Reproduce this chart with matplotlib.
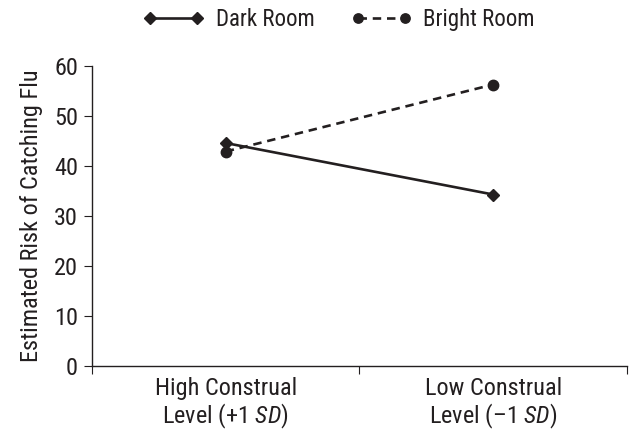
import matplotlib
matplotlib.use("Agg")
import matplotlib.pyplot as plt

FONT = 'Roboto Condensed'
plt.rcParams['font.family'] = [FONT, 'DejaVu Sans']
plt.rcParams['mathtext.fontset'] = 'custom'
plt.rcParams['mathtext.it'] = FONT + ':italic'
plt.rcParams['mathtext.rm'] = FONT

categories = ["High Construal\nLevel (+1 $\\mathit{SD}$)", "Low Construal\nLevel (\u20131 $\\mathit{SD}$)"]
dark_room = [44.6, 34.3]
bright_room = [42.9, 56.3]

ink = '#231f20'
fig = plt.figure(figsize=(6.34, 4.40), dpi=100)
ax = fig.add_axes([0.145, 0.168, 0.844, 0.682])

x = list(range(len(categories)))
ax.plot(x, dark_room, color=ink, linestyle='-', linewidth=1.9, marker='D', markersize=6.5,
        label='Dark Room')
ax.plot(x, bright_room, color=ink, linestyle=(0, (3.2, 2.2)), linewidth=1.9, marker='o', markersize=7.5,
        label='Bright Room')

ax.set_xlim(-0.5, 1.5)
ax.set_ylim(0, 60)
ax.set_yticks(range(0, 61, 10))
ax.set_xticks([-0.5, 0.5, 1.5])
ax.set_xticklabels([])
ax.set_xticks(x, minor=True)
ax.set_xticklabels(categories, minor=True, fontsize=17.5, color=ink, linespacing=1.1)
ax.tick_params(axis='x', which='minor', length=0, pad=8)
ax.tick_params(axis='x', which='major', length=6, direction='out', color=ink)
ax.tick_params(axis='y', length=6, direction='out', labelsize=17.5, labelcolor=ink, color=ink, pad=4)
for s in ['top', 'right']:
    ax.spines[s].set_visible(False)
for s in ['left', 'bottom']:
    ax.spines[s].set_color(ink)
    ax.spines[s].set_linewidth(1)

ax.set_ylabel('Estimated Risk of Catching Flu', fontsize=17.5, color=ink, labelpad=8)

leg = fig.legend(loc='upper center', bbox_to_anchor=(0.535, 1.028), ncol=2, frameon=False,
                 fontsize=16.5, numpoints=2, handlelength=2.65, columnspacing=1.6, handletextpad=0.5)
for t in leg.get_texts():
    t.set_color(ink)
for h in leg.legend_handles:
    h.set_markersize(h.get_markersize() * 0.9)

fig.savefig('out.png', dpi=100)
